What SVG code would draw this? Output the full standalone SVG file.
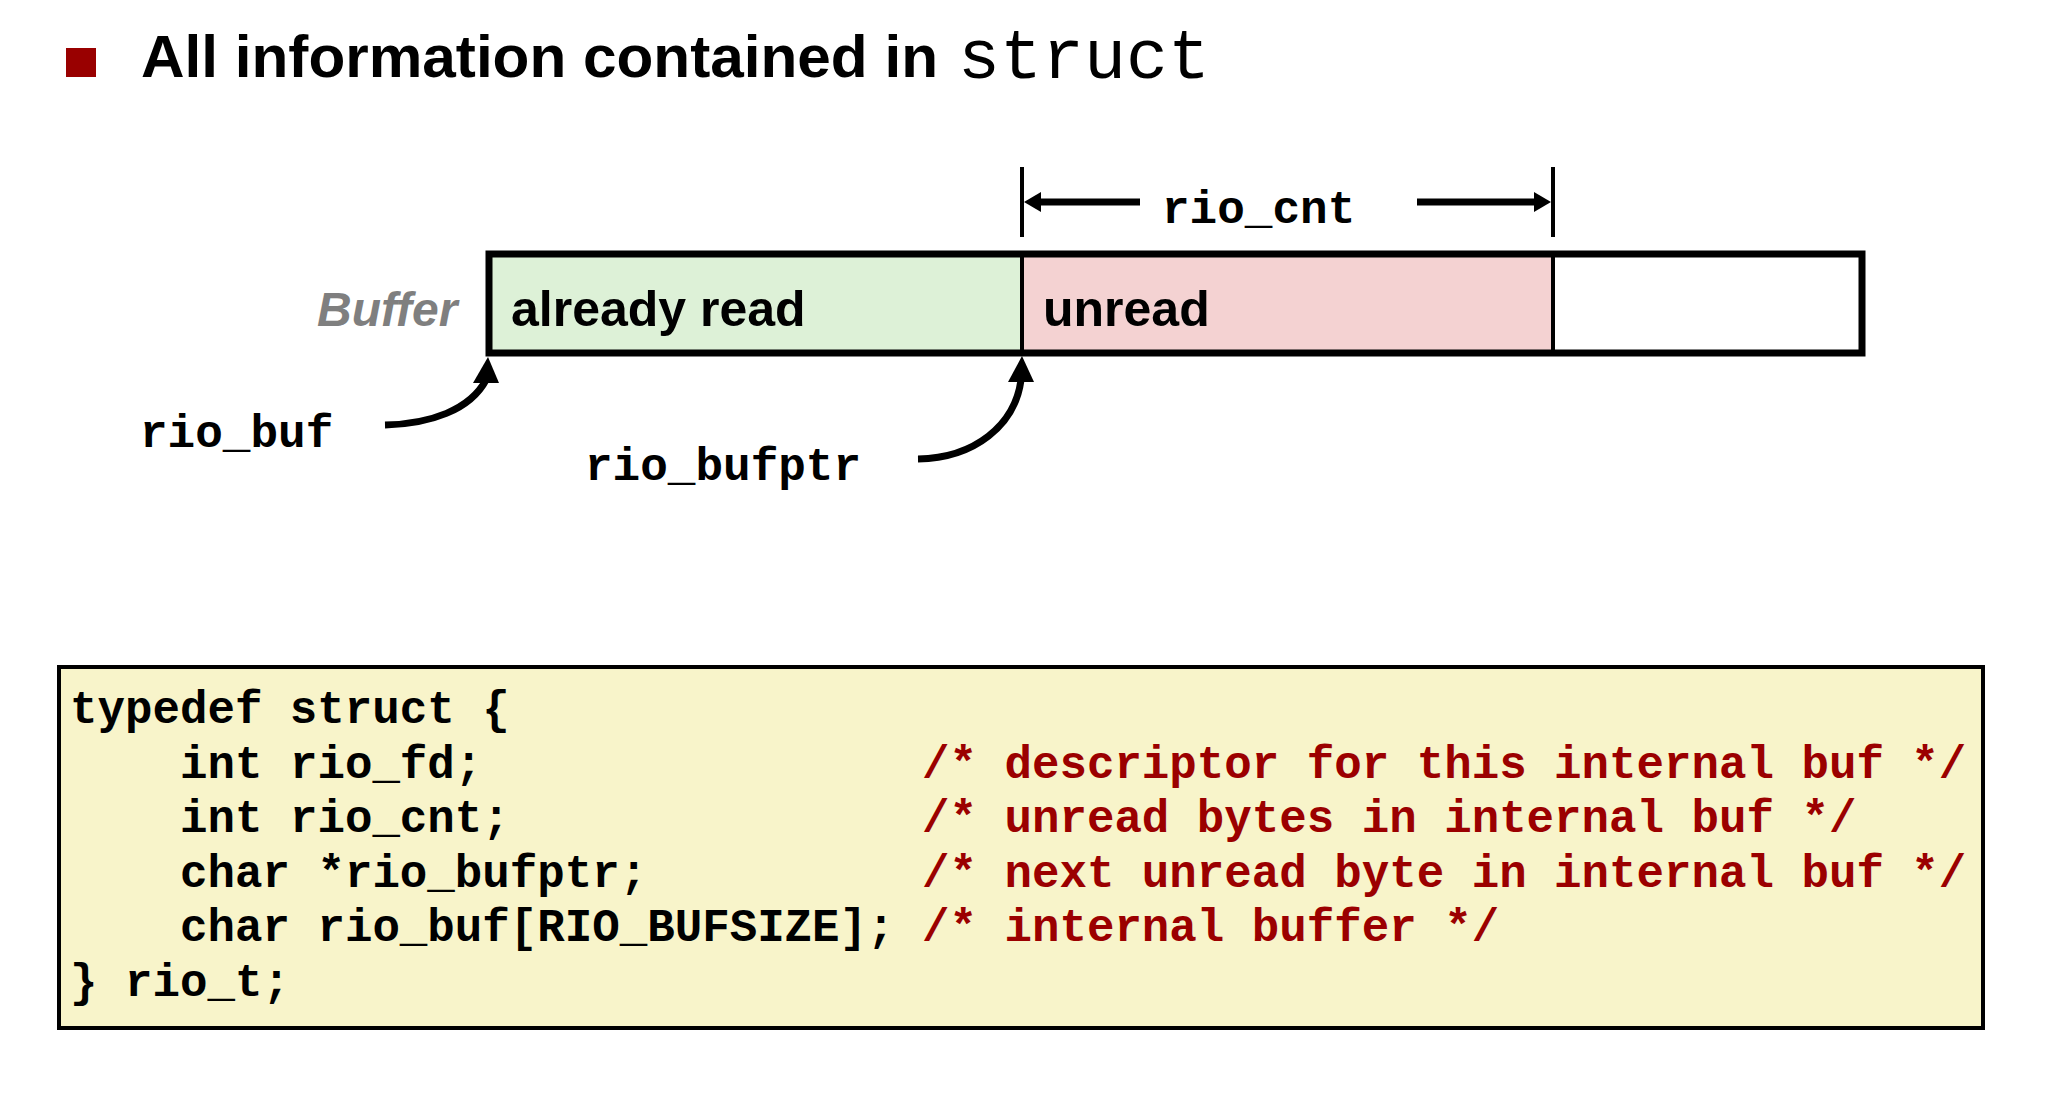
<svg xmlns="http://www.w3.org/2000/svg" width="2057" height="1101" viewBox="0 0 2057 1101">
<defs>
<style>
.title{font-family:"Liberation Sans",Arial,sans-serif;font-weight:bold;font-size:60px;fill:#000}
.mono{font-family:"Liberation Mono","Courier New",monospace}
.lbl{font-family:"Liberation Mono","Courier New",monospace;font-weight:bold;font-size:46px;fill:#000}
.cell{font-family:"Liberation Sans",Arial,sans-serif;font-weight:bold;font-size:50px;fill:#000}
.code{font-family:"Liberation Mono","Courier New",monospace;font-weight:bold;font-size:45.8px;fill:#000}
.cmt{fill:#9B0000}
.ln{stroke:#000;fill:none}
</style>
</defs>
<rect width="2057" height="1101" fill="#fff"/>
<g id="title">
<rect x="66" y="48" width="30" height="29" fill="#990000"/>
<text class="title" x="141" y="77" textLength="797" lengthAdjust="spacingAndGlyphs">All information contained in</text>
<text class="mono" x="958" y="78" font-size="70" fill="#000">struct</text>
</g>
<g id="buffer">
<rect x="489" y="254" width="533" height="99" fill="#DDF1D7"/>
<rect x="1022" y="254" width="531" height="99" fill="#F4D2D2"/>
<rect x="1553" y="254" width="309" height="99" fill="#FFFFFF"/>
<line class="ln" x1="1022" y1="254" x2="1022" y2="353" stroke-width="4"/>
<line class="ln" x1="1553" y1="254" x2="1553" y2="353" stroke-width="4"/>
<rect x="489" y="254" width="1373" height="99" fill="none" stroke="#000" stroke-width="7"/>
<text class="cell" x="511" y="326">already read</text>
<text class="cell" x="1043" y="326">unread</text>
<text x="317" y="326" font-family="Liberation Sans,Arial,sans-serif" font-weight="bold" font-style="italic" font-size="48" fill="#7F7F7F">Buffer</text>
</g>
<g id="rio_cnt">
<text class="lbl" x="1162" y="223">rio_cnt</text>
</g>
<g id="rio_buf">
<text class="lbl" x="140" y="447">rio_buf</text>
</g>
<g id="rio_bufptr">
<text class="lbl" x="585" y="480">rio_bufptr</text>
</g>
<g id="connectors">
<line class="ln" x1="1022" y1="167" x2="1022" y2="237" stroke-width="4"/>
<line class="ln" x1="1553" y1="167" x2="1553" y2="237" stroke-width="4"/>
<line class="ln" x1="1140" y1="202" x2="1038" y2="202" stroke-width="7"/>
<polygon points="1024,202 1041,192 1041,212" fill="#000"/>
<line class="ln" x1="1417" y1="202" x2="1537" y2="202" stroke-width="7"/>
<polygon points="1551,202 1534,192 1534,212" fill="#000"/>
<path class="ln" d="M385,425 C430,424 470,410 486,380" stroke-width="7"/>
<polygon points="488,357 473,383 499,383" fill="#000"/>
<path class="ln" d="M918,459 C975,458 1015,425 1021,380" stroke-width="7"/>
<polygon points="1022,356 1008,382 1034,382" fill="#000"/>
</g>
<g id="code">
<rect x="59" y="667" width="1924" height="361" fill="#F8F4CA" stroke="#000" stroke-width="4"/>
<text class="code" x="70" y="723">typedef struct {</text>
<text class="code" x="180" y="778">int rio_fd;</text>
<text class="code" x="180" y="832">int rio_cnt;</text>
<text class="code" x="180" y="887">char *rio_bufptr;</text>
<text class="code" x="180" y="941">char rio_buf[RIO_BUFSIZE];</text>
<text class="code" x="70" y="996">} rio_t;</text>
<text class="code cmt" x="922" y="778">/* descriptor for this internal buf */</text>
<text class="code cmt" x="922" y="832">/* unread bytes in internal buf */</text>
<text class="code cmt" x="922" y="887">/* next unread byte in internal buf */</text>
<text class="code cmt" x="922" y="941">/* internal buffer */</text>
</g>
</svg>
